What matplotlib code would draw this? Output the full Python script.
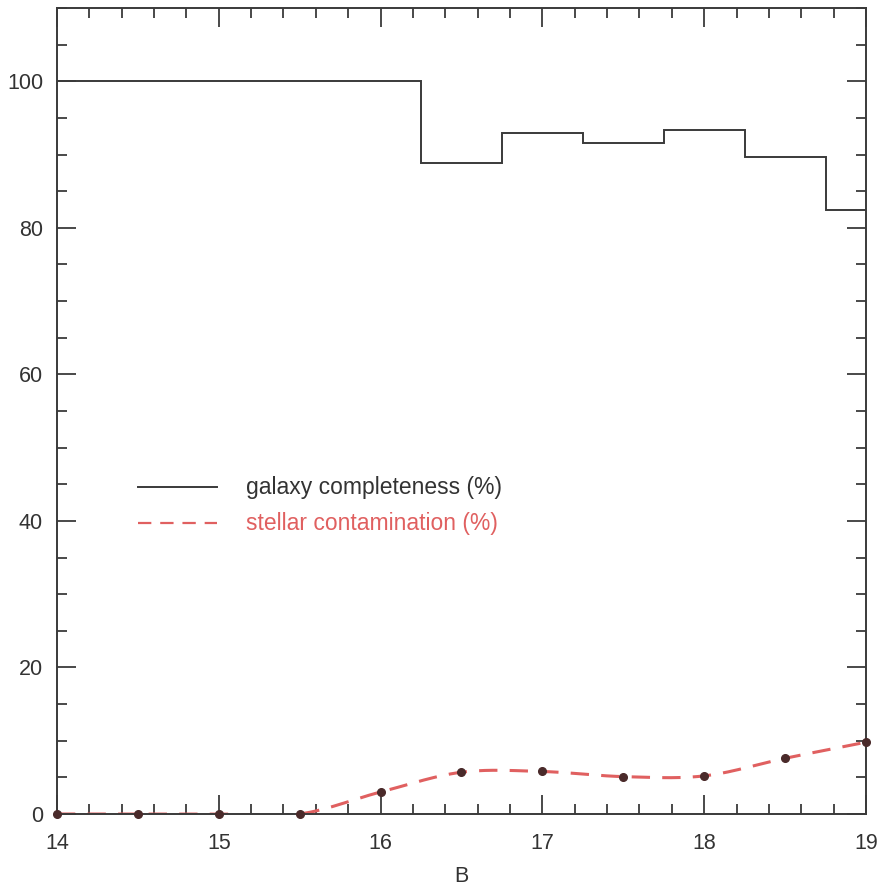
import numpy as np
import matplotlib
matplotlib.use("Agg")
import matplotlib.pyplot as plt
from matplotlib.ticker import MultipleLocator

plt.rcParams['font.family'] = ['Liberation Sans', 'DejaVu Sans']

# galaxy completeness histogram (bin edges and values, %)
bin_edges = [14.0, 16.25, 16.75, 17.25, 17.75, 18.25, 18.75, 19.0]
completeness = [100.0, 88.8, 93.0, 91.6, 93.3, 89.6, 82.4]

# stellar contamination (%)
mag = [14.0, 14.5, 15.0, 15.5, 16.0, 16.5, 17.0, 17.5, 18.0, 18.5, 19.0]
contamination = [0.0, 0.0, 0.0, 0.0, 3.0, 5.7, 5.8, 5.1, 5.2, 7.6, 9.8]


def smooth_curve(x, y, n=400):
    # catmull-rom style cubic through the points, only used to draw the line
    x = np.asarray(x, float)
    y = np.asarray(y, float)
    h = np.diff(x)
    m = np.gradient(y, x)
    xs = np.linspace(x[0], x[-1], n)
    idx = np.clip(np.searchsorted(x, xs) - 1, 0, len(x) - 2)
    t = (xs - x[idx]) / h[idx]
    h00 = 2 * t**3 - 3 * t**2 + 1
    h10 = t**3 - 2 * t**2 + t
    h01 = -2 * t**3 + 3 * t**2
    h11 = t**3 - t**2
    ys = (h00 * y[idx] + h10 * h[idx] * m[idx] +
          h01 * y[idx + 1] + h11 * h[idx] * m[idx + 1])
    return xs, ys


fig = plt.figure(figsize=(8.86, 8.9), dpi=100)
ax = fig.add_axes([0.0643, 0.0854, 0.9131, 0.9056])

ink = '#3a3a3a'
red = '#e06060'

ax.stairs(completeness, bin_edges, color=ink, linewidth=1.4, baseline=None)

xs, ys = smooth_curve(mag, contamination)
ax.plot(xs, ys, color=red, linewidth=2.2, dashes=(6, 4))
ax.plot(mag, contamination, 'o', color='#4a2a2a', markersize=5.5, zorder=3,
        clip_on=False)

ax.set_xlim(14, 19)
ax.set_ylim(0, 110)

ax.xaxis.set_major_locator(MultipleLocator(1))
ax.xaxis.set_minor_locator(MultipleLocator(0.2))
ax.yaxis.set_major_locator(MultipleLocator(20))
ax.yaxis.set_minor_locator(MultipleLocator(5))
ax.tick_params(which='both', direction='in', top=True, right=True,
               color=ink, width=1.3)
ax.tick_params(which='major', length=14, labelsize=15.5, labelcolor='#333333')
ax.tick_params(axis='x', which='major', pad=14)
ax.tick_params(axis='y', which='major', pad=10)
ax.tick_params(which='minor', length=7)
ax.set_yticks([0, 20, 40, 60, 80, 100])
for s in ax.spines.values():
    s.set_color(ink)
    s.set_linewidth(1.4)

ax.set_xlabel('B', fontsize=15.5, color='#333333', labelpad=8)

# legend drawn by hand
ax.plot([14.5, 14.99], [44.6, 44.6], color=ink, linewidth=1.4)
ax.text(15.17, 44.6, 'galaxy completeness (%)', fontsize=16.5, color='#333333',
        va='center')
ax.plot([14.5, 14.99], [39.7, 39.7], color=red, linewidth=1.6, dashes=(6, 4))
ax.text(15.17, 39.7, 'stellar contamination (%)', fontsize=16.5, color=red,
        va='center')

fig.savefig('out.png', dpi=100)
